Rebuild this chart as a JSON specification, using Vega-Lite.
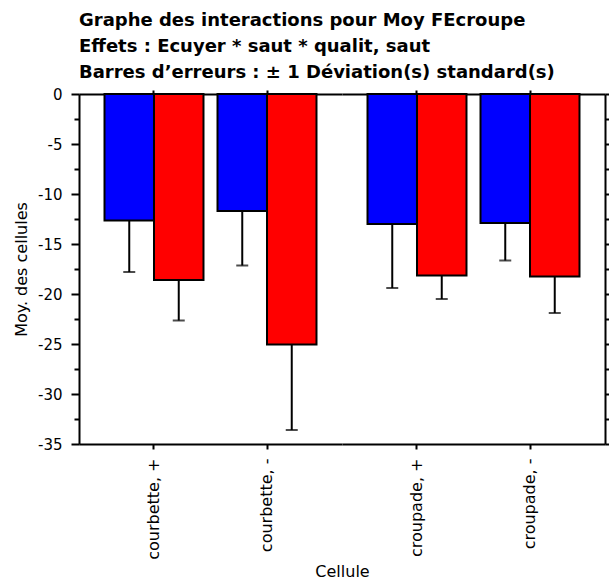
{
  "$schema": "https://vega.github.io/schema/vega-lite/v6.json",
  "autosize": {"type": "pad"},
  "padding": {"left": 13, "top": 12, "right": 0, "bottom": 0},
  "background": "white",
  "spacing": 0,
  "bounds": "flush",
  "title": {
    "text": ["Graphe des interactions pour Moy FEcroupe", "Effets : Ecuyer * saut * qualit, saut", "Barres d’erreurs : ± 1 Déviation(s) standard(s)"],
    "anchor": "start",
    "frame": "group",
    "font": "DejaVu Sans",
    "fontSize": 18,
    "fontWeight": "bold",
    "lineHeight": 26,
    "offset": 5,
    "color": "black"
  },
  "config": {
    "font": "DejaVu Sans",
    "view": {"stroke": null},
    "axis": {
      "domainColor": "black",
      "domainWidth": 2,
      "tickColor": "black",
      "tickWidth": 2,
      "labelColor": "black",
      "titleColor": "black",
      "labelFont": "DejaVu Sans",
      "titleFont": "DejaVu Sans",
      "titleFontWeight": "normal",
      "grid": false
    }
  },
  "data": {
    "values": [
      {"saut": "courbette", "cellule": "courbette, +", "ecuyer": "1", "moyenne": -12.65, "bas": -17.8},
      {"saut": "courbette", "cellule": "courbette, +", "ecuyer": "2", "moyenne": -18.6, "bas": -22.65},
      {"saut": "courbette", "cellule": "courbette, -", "ecuyer": "1", "moyenne": -11.7, "bas": -17.15},
      {"saut": "courbette", "cellule": "courbette, -", "ecuyer": "2", "moyenne": -25.05, "bas": -33.6},
      {"saut": "croupade", "cellule": "croupade, +", "ecuyer": "1", "moyenne": -13.0, "bas": -19.4},
      {"saut": "croupade", "cellule": "croupade, +", "ecuyer": "2", "moyenne": -18.15, "bas": -20.5},
      {"saut": "croupade", "cellule": "croupade, -", "ecuyer": "1", "moyenne": -12.9, "bas": -16.65},
      {"saut": "croupade", "cellule": "croupade, -", "ecuyer": "2", "moyenne": -18.25, "bas": -21.9}
    ]
  },
  "resolve": {"scale": {"xOffset": "independent"}},
  "hconcat": [
    {
      "width": 263,
      "height": 350,
      "transform": [{"filter": "datum.saut === 'courbette'"}],
      "resolve": {"axis": {"x": "independent", "y": "independent"}},
      "layer": [
        {
          "mark": {"type": "bar", "stroke": "black", "strokeWidth": 2},
          "encoding": {
            "x": {
              "field": "cellule", "type": "nominal",
              "scale": {"domain": ["courbette, +", "courbette, -"], "paddingInner": 0.124, "paddingOuter": 0.2257},
              "axis": {
                "orient": "bottom", "title": "Cellule", "titleFontSize": 16, "titlePadding": 4,
                "titleAnchor": "end", "titleAlign": "center",
                "labelAngle": -90, "labelAlign": "right", "labelBaseline": "middle",
                "labelFontSize": 16, "labelPadding": 9, "tickSize": 5
              }
            },
            "xOffset": {"field": "ecuyer", "type": "nominal", "scale": {"paddingInner": 0, "paddingOuter": 0}},
            "y": {
              "field": "moyenne", "type": "quantitative",
              "scale": {"domain": [-35, 0], "nice": false, "zero": true},
              "axis": {
                "orient": "left", "title": "Moy. des cellules", "titleFontSize": 16, "titlePadding": 8,
                "values": [0, -2.5, -5, -7.5, -10, -12.5, -15, -17.5, -20, -22.5, -25, -27.5, -30, -32.5, -35],
                "labelExpr": "datum.value % 5 === 0 ? '' + datum.value : ''",
                "labelFontSize": 15, "labelPadding": 9,
                "tickSize": {"condition": {"test": "datum.value % 5 === 0", "value": 8}, "value": 5}
              }
            },
            "color": {
              "field": "ecuyer", "type": "nominal",
              "scale": {"domain": ["1", "2"], "range": ["#0000ff", "#ff0000"]},
              "legend": null
            }
          }
        },
        {
          "mark": {"type": "rule", "color": "black", "strokeWidth": 2},
          "encoding": {
            "x": {"field": "cellule", "type": "nominal", "axis": {"orient": "top", "title": null, "labels": false, "tickSize": 4}},
            "xOffset": {"field": "ecuyer", "type": "nominal"},
            "y": {"field": "moyenne", "type": "quantitative", "axis": null},
            "y2": {"field": "bas"}
          }
        },
        {
          "mark": {"type": "tick", "color": "black", "thickness": 2, "size": 12, "orient": "horizontal"},
          "encoding": {
            "x": {"field": "cellule", "type": "nominal", "axis": null},
            "xOffset": {"field": "ecuyer", "type": "nominal"},
            "y": {"field": "bas", "type": "quantitative", "axis": null}
          }
        }
      ]
    },
    {
      "width": 263,
      "height": 350,
      "transform": [{"filter": "datum.saut === 'croupade'"}],
      "resolve": {"axis": {"x": "independent", "y": "independent"}},
      "layer": [
        {
          "mark": {"type": "bar", "stroke": "black", "strokeWidth": 2},
          "encoding": {
            "x": {
              "field": "cellule", "type": "nominal",
              "scale": {"domain": ["croupade, +", "croupade, -"], "paddingInner": 0.124, "paddingOuter": 0.2257},
              "axis": {
                "orient": "bottom", "title": null,
                "labelAngle": -90, "labelAlign": "right", "labelBaseline": "middle",
                "labelFontSize": 16, "labelPadding": 9, "tickSize": 5
              }
            },
            "xOffset": {"field": "ecuyer", "type": "nominal", "scale": {"paddingInner": 0, "paddingOuter": 0}},
            "y": {
              "field": "moyenne", "type": "quantitative",
              "scale": {"domain": [-35, 0], "nice": false, "zero": true},
              "axis": {
                "orient": "right", "title": null, "labels": false, "tickSize": 5,
                "values": [0, -2.5, -5, -7.5, -10, -12.5, -15, -17.5, -20, -22.5, -25, -27.5, -30, -32.5, -35]
              }
            },
            "color": {
              "field": "ecuyer", "type": "nominal",
              "scale": {"domain": ["1", "2"], "range": ["#0000ff", "#ff0000"]},
              "legend": null
            }
          }
        },
        {
          "mark": {"type": "rule", "color": "black", "strokeWidth": 2},
          "encoding": {
            "x": {"field": "cellule", "type": "nominal", "axis": {"orient": "top", "title": null, "labels": false, "tickSize": 4}},
            "xOffset": {"field": "ecuyer", "type": "nominal"},
            "y": {"field": "moyenne", "type": "quantitative", "axis": null},
            "y2": {"field": "bas"}
          }
        },
        {
          "mark": {"type": "tick", "color": "black", "thickness": 2, "size": 12, "orient": "horizontal"},
          "encoding": {
            "x": {"field": "cellule", "type": "nominal", "axis": null},
            "xOffset": {"field": "ecuyer", "type": "nominal"},
            "y": {"field": "bas", "type": "quantitative", "axis": null}
          }
        }
      ]
    }
  ]
}
